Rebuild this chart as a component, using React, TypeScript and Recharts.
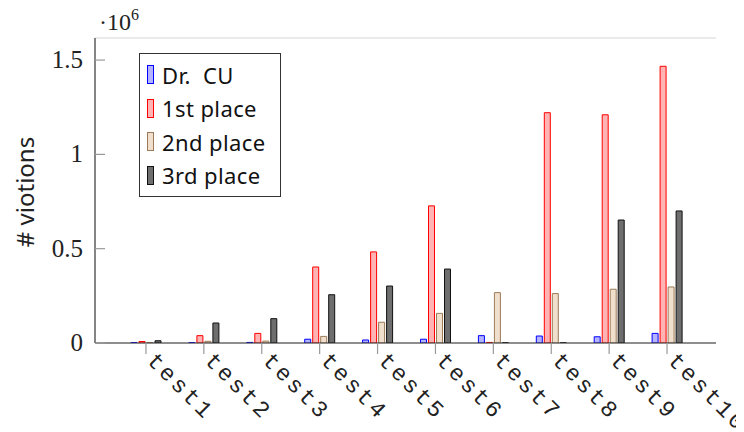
import React from "react";
import { BarChart, Bar, XAxis, YAxis, CartesianGrid } from "recharts";

const categories = ["test1", "test2", "test3", "test4", "test5", "test6", "test7", "test8", "test9", "test10"];
const drCU = [2000, 2000, 3000, 20000, 16000, 20000, 39000, 37000, 33000, 51000];
const first = [8000, 39000, 51000, 403000, 483000, 727000, 3000, 1221000, 1210000, 1467000];
const second = [2000, 9000, 10000, 35000, 110000, 157000, 267000, 262000, 285000, 297000];
const third = [12000, 106000, 129000, 256000, 302000, 392000, 1000, 1000, 652000, 700000];
const yTicks = [0, 500000, 1000000, 1500000];
const yTickLabels = ["0", "0.5", "1", "1.5"];

const series = [
  { key: "drCU", name: "Dr.  CU", fill: "#b3b3ff", stroke: "#0000ff" },
  { key: "first", name: "1st place", fill: "#ffb3b3", stroke: "#ff0000" },
  { key: "second", name: "2nd place", fill: "#efdfcc", stroke: "#9c7a58" },
  { key: "third", name: "3rd place", fill: "#6e6e6e", stroke: "#111111" },
];

const data = categories.map((c, i) => ({
  name: c,
  drCU: drCU[i],
  first: first[i],
  second: second[i],
  third: third[i],
}));

const XTick = (props: any) => {
  const { x, y, payload } = props;
  return (
    <g transform={`translate(${x},${y})`}>
      <text
        transform="rotate(45)"
        x={4}
        y={4}
        fontFamily="Liberation Mono"
        fontSize={23}
        letterSpacing={3}
        fill="#222"
        textAnchor="start"
      >
        {payload.value}
      </text>
    </g>
  );
};

const YTickLeft = (props: any) => {
  const { x, y, payload } = props;
  const idx = yTicks.indexOf(payload.value);
  return (
    <g>
      <line x1={x + 10} x2={x + 20} y1={y} y2={y} stroke="#999" strokeWidth={1.2} />
      <text x={x - 2} y={y + 8} textAnchor="end" fontFamily="Liberation Serif" fontSize={25} fill="#222">
        {yTickLabels[idx]}
      </text>
    </g>
  );
};

const YTickRight = (props: any) => {
  const { x, y } = props;
  return <line x1={x - 10} x2={x} y1={y} y2={y} stroke="#999" strokeWidth={1.2} />;
};

const LegendBox = () => (
  <div
    style={{
      position: "absolute",
      left: 131,
      top: 45,
      border: "1px solid #333",
      background: "#fff",
      width: 142,
      height: 144,
      boxSizing: "border-box",
      padding: "4px 0 0 7px",
      fontFamily: "Noto Sans",
      fontSize: 22,
      letterSpacing: 0.4,
      color: "#111",
    }}
  >
    {series.map((s) => (
      <div key={s.key} style={{ display: "flex", alignItems: "center", height: 33.5, whiteSpace: "pre" }}>
        <div
          style={{
            width: 5,
            height: 17,
            background: s.fill,
            border: `1px solid ${s.stroke}`,
            marginRight: 8,
          }}
        />
        <span>{s.name}</span>
      </div>
    ))}
  </div>
);

export default function App() {
  return (
    <div style={{ position: "relative", width: 728, height: 424 }}>
      <BarChart
        width={728}
        height={424}
        data={data}
        margin={{ top: 30, right: 20, bottom: 9, left: 0 }}
        barSize={6}
        barGap={2}
      >
        <CartesianGrid horizontal={true} vertical={false} stroke="#d6d6d6" strokeWidth={1.2} />
        <XAxis
          dataKey="name"
          xAxisId="bottom"
          height={80}
          padding={{ left: 22, right: 20 }}
          tickSize={11}
          tickMargin={2}
          tickLine={{ stroke: "#999", strokeWidth: 1.2 }}
          axisLine={{ stroke: "#333", strokeWidth: 1.2 }}
          tick={<XTick />}
          interval={0}
        />
        <XAxis
          dataKey="name"
          xAxisId="top"
          orientation="top"
          height={0}
          padding={{ left: 22, right: 20 }}
          tickSize={11}
          tickLine={{ stroke: "#999", strokeWidth: 1.2 }}
          axisLine={{ stroke: "#333", strokeWidth: 1.2 }}
          tick={false}
          interval={0}
        />
        <YAxis
          yAxisId="left"
          width={87}
          domain={[0, 1617000]}
          ticks={yTicks}
          tickSize={0}
          tickMargin={10}
          axisLine={{ stroke: "#333", strokeWidth: 1.2 }}
          tick={<YTickLeft />}
          allowDataOverflow
        />
        <YAxis
          yAxisId="right"
          orientation="right"
          width={0}
          domain={[0, 1617000]}
          ticks={yTicks}
          tickSize={0}
          tickMargin={0}
          axisLine={{ stroke: "#333", strokeWidth: 1.2 }}
          tick={<YTickRight />}
          allowDataOverflow
        />
        {series.map((s) => (
          <Bar
            key={s.key}
            dataKey={s.key}
            name={s.name}
            xAxisId="bottom"
            yAxisId="left"
            fill={s.fill}
            stroke={s.stroke}
            strokeWidth={1}
            isAnimationActive={false}
          />
        ))}
        <text
          x={16}
          y={184}
          transform="rotate(-90, 16, 184)"
          textAnchor="middle"
          dominantBaseline="central"
          fontFamily="Noto Sans"
          fontSize={24}
          fill="#222"
        >
          # viotions
        </text>
        <text x={91} y={22} fontFamily="Liberation Serif" fontSize={24} fill="#222">
          ·10
          <tspan dy={-10} fontSize={16}>
            6
          </tspan>
        </text>
      </BarChart>
      <LegendBox />
    </div>
  );
}
